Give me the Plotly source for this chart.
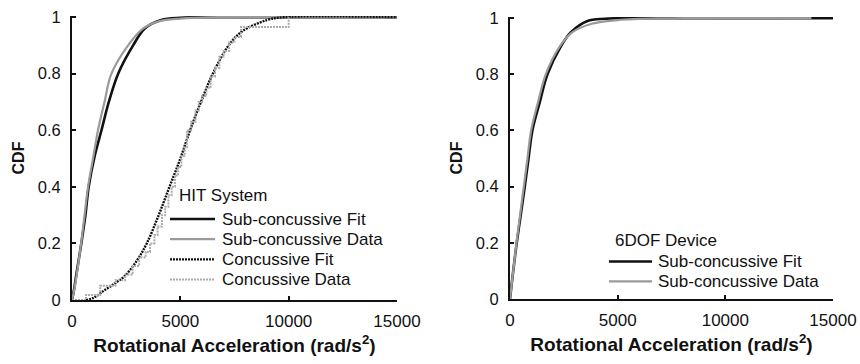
import plotly.graph_objects as go

# ---- data ----
# Left panel: HIT System
hit_sub_fit_x = [0, 100, 200, 430, 620, 770, 1050, 1360, 1700, 2130, 2820, 3360, 4120, 5000, 6000, 15000]
hit_sub_fit_y = [0, 0.04, 0.09, 0.2, 0.3, 0.4, 0.51, 0.6, 0.7, 0.8, 0.9, 0.96, 0.99, 0.998, 1.0, 1.0]

hit_sub_data_x = [0, 100, 200, 420, 580, 740, 970, 1200, 1500, 1820, 2590, 3290, 4000, 5000, 7000, 15000]
hit_sub_data_y = [0, 0.035, 0.08, 0.2, 0.3, 0.4, 0.5, 0.6, 0.7, 0.8, 0.9, 0.96, 0.985, 0.995, 1.0, 1.0]

hit_conc_fit_x = [650, 1000, 1510, 2000, 2440, 3000, 3450, 4000, 4500, 5000, 5450, 5950, 6500, 7230, 7860, 9010, 9800, 15000]
hit_conc_fit_y = [0, 0.008, 0.035, 0.06, 0.085, 0.14, 0.2, 0.3, 0.4, 0.5, 0.6, 0.7, 0.8, 0.9, 0.95, 0.99, 1.0, 1.0]

hit_conc_data_x = [0, 650, 1000, 1300, 2000, 2450, 2800, 3100, 3400, 3600, 3800, 3950, 4150, 4300, 4450, 4600,
                   4750, 4900, 5050, 5200, 5300, 5500, 5700, 5850, 6000, 6200, 6400, 6600, 6800, 7000, 7250,
                   7500, 7800, 10000]
hit_conc_data_y = [0, 0.018, 0.018, 0.05, 0.07, 0.09, 0.12, 0.15, 0.17, 0.2, 0.23, 0.26, 0.30, 0.33, 0.37, 0.40,
                   0.44, 0.47, 0.51, 0.54, 0.60, 0.63, 0.67, 0.70, 0.72, 0.75, 0.79, 0.82, 0.86, 0.88, 0.91,
                   0.93, 0.965, 1.0]

# Right panel: 6DOF Device
dof_sub_fit_x = [0, 150, 313, 500, 686, 860, 1040, 1380, 1740, 2370, 2830, 3600, 4400, 6000, 15000]
dof_sub_fit_y = [0, 0.1, 0.2, 0.3, 0.4, 0.5, 0.6, 0.7, 0.8, 0.9, 0.95, 0.99, 0.998, 1.0, 1.0]

dof_sub_data_x = [0, 150, 300, 470, 640, 810, 980, 1300, 1660, 2320, 2900, 3800, 5000, 7000, 14000]
dof_sub_data_y = [0, 0.1, 0.2, 0.3, 0.4, 0.5, 0.6, 0.7, 0.8, 0.9, 0.95, 0.98, 0.993, 0.999, 1.0]

x_ticks = [0, 5000, 10000, 15000]
x_tick_text = ["0", "5000", "10000", "15000"]
y_ticks = [0, 0.2, 0.4, 0.6, 0.8, 1]
y_tick_text = ["0", "0.2", "0.4", "0.6", "0.8", "1"]

left_legend_title = "HIT System"
left_legend_names = ["Sub-concussive Fit", "Sub-concussive Data", "Concussive Fit", "Concussive Data"]
right_legend_title = "6DOF Device"
right_legend_names = ["Sub-concussive Fit", "Sub-concussive Data"]

# ---- styles ----
FONT = "Arial, Liberation Sans, sans-serif"
BLACK = "#111111"
GRAY = "#9a9a9a"
LGRAY = "#ababab"
style_fit = dict(color=BLACK, width=2.6)
style_data = dict(color=GRAY, width=2.2)
style_cfit = dict(color=BLACK, width=2.4, dash="2px,1px")
style_cdata = dict(color=LGRAY, width=2.0, dash="2px,1px")

W, H = 860, 364

fig = go.Figure()


def add_line(x, y, style, shape, xa, ya, name):
    ln = dict(style)
    ln["shape"] = shape
    if shape == "spline":
        ln["smoothing"] = 1.0
    fig.add_trace(go.Scatter(x=x, y=y, mode="lines", name=name, line=ln,
                             xaxis=xa, yaxis=ya, showlegend=False, hoverinfo="x+y+name"))


add_line(hit_sub_fit_x, hit_sub_fit_y, style_fit, "spline", "x", "y", left_legend_names[0])
add_line(hit_sub_data_x, hit_sub_data_y, style_data, "spline", "x", "y", left_legend_names[1])
add_line(hit_conc_fit_x, hit_conc_fit_y, style_cfit, "spline", "x", "y", left_legend_names[2])
add_line(hit_conc_data_x, hit_conc_data_y, style_cdata, "hv", "x", "y", left_legend_names[3])
add_line(dof_sub_fit_x, dof_sub_fit_y, style_fit, "spline", "x2", "y2", right_legend_names[0])
add_line(dof_sub_data_x, dof_sub_data_y, style_data, "spline", "x2", "y2", right_legend_names[1])

axis_common = dict(showline=True, linecolor=BLACK, linewidth=2, ticks="inside", ticklen=4,
                   tickwidth=1.5, tickcolor=BLACK, showgrid=False, zeroline=False, mirror=False,
                   automargin=False)

xtitle = dict(text="<b>Rotational Acceleration (rad/s<sup>2</sup>)</b>",
              font=dict(family=FONT, size=19, color=BLACK), standoff=8)
ytitle = dict(text="<b>CDF</b>", font=dict(family=FONT, size=16, color=BLACK), standoff=9)
xtickfont = dict(family=FONT, size=17, color=BLACK)
ytickfont = dict(family=FONT, size=16.5, color=BLACK)


def px_x(p):
    return p / W


def px_y(p):
    return 1 - p / H


# ---- manual legends (legend layout in pixels) ----
annotations = []
shapes = []


def add_legend(title, names, styles, title_x, title_y, sample_x0, sample_x1, text_x, row_y0, row_dy):
    annotations.append(dict(text=title, x=px_x(title_x), y=px_y(title_y), xref="paper", yref="paper",
                            xanchor="left", yanchor="middle", showarrow=False,
                            font=dict(family=FONT, size=17, color=BLACK)))
    for i, (nm, st) in enumerate(zip(names, styles)):
        yy = px_y(row_y0 + i * row_dy)
        shapes.append(dict(type="line", xref="paper", yref="paper", x0=px_x(sample_x0), x1=px_x(sample_x1),
                           y0=yy, y1=yy, line=dict(st)))
        annotations.append(dict(text=nm, x=px_x(text_x), y=yy, xref="paper", yref="paper",
                                xanchor="left", yanchor="middle", showarrow=False,
                                font=dict(family=FONT, size=17, color=BLACK)))


add_legend(left_legend_title, left_legend_names, [style_fit, style_data, style_cfit, style_cdata],
           177, 195, 170, 215, 220, 219, 20.2)
add_legend(right_legend_title, right_legend_names, [style_fit, style_data],
           613, 240, 609, 652, 656, 261.5, 19.8)

fig.update_layout(
    width=W, height=H,
    margin=dict(l=0, r=0, t=0, b=0, autoexpand=False),
    paper_bgcolor="white", plot_bgcolor="white",
    font=dict(family=FONT, size=17, color=BLACK),
    showlegend=False,
    xaxis=dict(domain=[px_x(72), px_x(397)], range=[0, 15000], tickvals=x_ticks, ticktext=x_tick_text,
               title=xtitle, anchor="y", tickfont=xtickfont, ticklabelstandoff=5, **axis_common),
    yaxis=dict(domain=[px_y(300), px_y(16)], range=[0, 1.004], tickvals=y_ticks, ticktext=y_tick_text,
               title=ytitle, anchor="x", tickfont=ytickfont, ticklabelstandoff=6, **axis_common),
    xaxis2=dict(domain=[px_x(510), px_x(833)], range=[0, 15000], tickvals=x_ticks, ticktext=x_tick_text,
                title=xtitle, anchor="y2", tickfont=xtickfont, ticklabelstandoff=5, **axis_common),
    yaxis2=dict(domain=[px_y(299), px_y(17)], range=[0, 1.004], tickvals=y_ticks, ticktext=y_tick_text,
                title=ytitle, anchor="x2", tickfont=ytickfont, ticklabelstandoff=6, **axis_common),
    annotations=annotations,
    shapes=shapes,
)

fig.write_html("out.html", config={"displayModeBar": False},
               post_script="document.body.style.margin='0';")
